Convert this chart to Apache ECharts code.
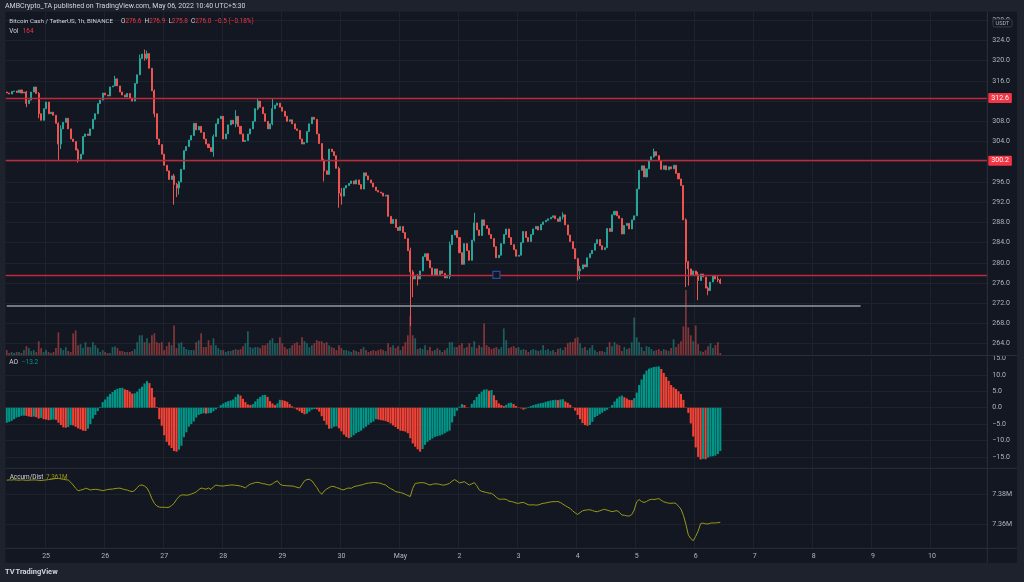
<!DOCTYPE html>
<html>
<head>
<meta charset="utf-8">
<script src="https://cdn.jsdelivr.net/npm/echarts@6/dist/echarts.min.js"></script>
<style>
  html, body { margin: 0; padding: 0; background: #131722; }
  #chart { width: 1024px; height: 582px; }
</style>
</head>
<body>
<div id="chart"></div>
<script>
// BCH/USDT 1h, Apr 24 08:00 -> May 6 10:00
const firstOpen = 313.8;
const closes = [
  313.6, 313.4, 313.9, 314.0, 313.7, 314.2, 313.6, 313.8, 311.5, 312.2, 313.8, 314.8, 313.5, 309.5, 308.2, 310.5,
  311.8, 309.5, 309.8, 309.2, 307.6, 303.5, 306.5, 307.8, 308.6, 306.5, 304.5, 304.0, 302.3, 300.5, 301.5, 305.0, 305.5, 305.2, 306.5, 308.4, 309.5, 311.5, 312.2, 313.6,
  313.2, 313.0, 314.8, 315.0, 316.4, 315.0, 313.8, 313.2, 312.8, 313.5, 312.6, 312.0, 315.5, 317.2, 320.4, 321.3, 320.5, 321.4, 318.5, 314.0, 309.5, 304.5, 303.4, 301.5,
  299.3, 298.2, 296.5, 297.2, 295.5, 294.8, 296.0, 298.5, 302.2, 303.0, 304.3, 305.2, 307.6, 306.3, 307.0, 305.8, 304.5, 303.5, 302.8, 302.0, 305.0, 307.5, 308.5, 309.0,
  304.5, 305.5, 307.3, 308.2, 307.5, 309.0, 307.0, 305.5, 304.0, 304.2, 305.5, 306.5, 308.0, 310.5, 312.0, 310.8, 309.5, 308.0, 306.5, 307.5, 310.5, 311.2, 311.6, 310.8,
  310.0, 309.0, 308.0, 308.3, 307.5, 306.5, 306.2, 304.5, 303.5, 303.8, 306.0, 307.5, 308.8, 308.4, 305.5, 303.6, 300.2, 298.2, 297.5, 302.5, 302.0, 301.2, 298.7, 293.8,
  293.2, 294.8, 295.3, 295.7, 296.2, 295.6, 296.4, 295.5, 294.6, 297.8, 297.2, 296.4, 295.8, 295.0, 294.3, 294.0, 293.8, 293.2, 293.4, 289.2, 287.8, 288.6, 287.0, 286.4,
  287.2, 286.0, 284.8, 282.4, 278.2, 276.8, 277.5, 276.8, 278.4, 281.2, 281.8, 280.5, 279.0, 277.6, 278.8, 277.5, 278.4, 277.9, 277.0, 277.3, 283.6, 285.5, 286.4, 285.0,
  282.0, 279.7, 283.8, 282.4, 280.5, 284.5, 287.9, 286.5, 285.4, 288.5, 287.4, 286.8, 285.6, 284.8, 283.2, 281.0, 281.5, 283.8, 285.6, 286.7, 285.0, 283.6, 282.6, 281.3,
  281.5, 284.0, 286.2, 285.0, 284.2, 285.6, 286.7, 287.2, 286.5, 287.6, 288.1, 288.4, 288.7, 289.0, 289.3, 288.7, 288.2, 289.1, 289.5, 287.5, 285.5, 284.2, 282.8, 280.8,
  278.4, 278.8, 279.6, 279.2, 281.0, 281.8, 282.5, 283.8, 284.6, 283.4, 282.6, 283.0, 286.8, 286.2, 289.5, 290.2, 289.3, 288.8, 285.7, 287.4, 287.8, 286.7, 288.5, 289.3,
  294.6, 298.3, 299.2, 297.0, 298.6, 300.2, 301.0, 302.0, 301.2, 300.2, 298.5, 299.2, 298.4, 299.0, 298.6, 299.3, 297.7, 296.6, 295.3, 288.5, 280.2, 278.8, 277.6, 278.4,
  277.7, 276.5, 277.8, 277.2, 275.0, 274.5, 276.2, 277.5, 276.8, 276.6, 276.0
];
// visible wicks: [candle index, low, high]; other candles show no wick
const wicks = [
  [8, 310.8, 314.0], [13, 308.6, 313.8], [21, 300.3, 307.8], [22, 302.5, 307.2], [29, 299.8, 302.6],
  [44, 315.0, 317.0], [54, 317.2, 321.2], [56, 320.0, 322.2], [57, 320.2, 322.0], [60, 308.8, 314.3],
  [68, 291.5, 297.6], [69, 293.0, 295.8], [70, 293.5, 296.2], [84, 301.0, 305.4], [93, 306.8, 310.2],
  [102, 310.2, 312.6], [108, 307.2, 312.6], [129, 296.1, 300.6], [135, 290.9, 299.0], [136, 291.5, 294.8],
  [164, 267.5, 283.0], [165, 273.2, 278.6], [167, 275.5, 277.8], [180, 276.8, 284.2], [190, 284.2, 289.9],
  [226, 288.6, 290.0], [232, 276.5, 281.0], [233, 276.8, 279.4], [263, 300.8, 302.6], [276, 275.2, 288.8],
  [277, 275.5, 280.4], [281, 272.6, 278.2], [285, 273.6, 275.3], [289, 276.2, 277.6], [290, 275.8, 276.9]
];
const volumes = [
  400, 160, 240, 160, 240, 240, 160, 400, 720, 560, 320, 400, 240, 1120, 560, 240,
  400, 240, 160, 240, 560, 1840, 560, 400, 640, 320, 240, 1760, 2000, 800, 880, 560, 1040, 640, 640, 1040, 800, 560, 240, 400,
  240, 160, 160, 640, 720, 560, 320, 320, 240, 240, 240, 320, 480, 1040, 1600, 1600, 1040, 1360, 960, 1600, 1760, 1040, 960, 1040,
  400, 720, 1040, 800, 2400, 560, 960, 1040, 640, 480, 400, 400, 400, 1040, 1200, 1760, 640, 640, 1200, 800, 1360, 800, 560, 400,
  400, 240, 320, 320, 400, 480, 400, 480, 720, 960, 1920, 640, 560, 640, 640, 560, 800, 800, 960, 1200, 1360, 960, 960, 1440,
  960, 640, 480, 560, 800, 960, 1040, 800, 1440, 1120, 960, 640, 800, 960, 1200, 1120, 1120, 960, 1040, 800, 640, 560, 400, 800,
  560, 400, 400, 320, 240, 400, 320, 240, 480, 640, 400, 240, 320, 400, 320, 400, 480, 400, 320, 960, 640, 800, 560, 720,
  400, 720, 1040, 1600, 3200, 1600, 1360, 480, 560, 480, 800, 400, 640, 320, 400, 560, 400, 240, 400, 560, 1040, 1040, 640, 640,
  800, 960, 560, 640, 960, 640, 1120, 560, 800, 640, 2560, 800, 640, 480, 560, 640, 480, 640, 2160, 1200, 560, 640, 720, 560,
  640, 400, 480, 400, 240, 400, 480, 400, 320, 400, 800, 400, 480, 320, 400, 240, 480, 560, 400, 640, 960, 1040, 1040, 1360,
  1440, 960, 560, 640, 400, 560, 800, 400, 240, 320, 320, 240, 640, 1040, 720, 1040, 880, 800, 320, 640, 480, 560, 1040, 3040,
  1440, 1040, 640, 320, 720, 640, 480, 320, 400, 480, 320, 480, 400, 320, 560, 1280, 640, 880, 1120, 2320, 5280, 2240, 1600, 1120,
  2400, 880, 320, 240, 400, 720, 960, 560, 800, 1040, 164
];
const aoValues = [
  -4.6, -4.3, -4.0, -3.5, -3.0, -2.8, -2.5, -2.4, -2.5, -2.7, -2.8, -2.7, -2.9, -3.3, -3.1, -3.5,
  -3.6, -3.8, -3.7, -3.6, -3.7, -4.6, -5.3, -6.0, -6.1, -5.9, -5.3, -5.4, -5.8, -6.3, -6.6, -7.0, -7.1, -6.4, -5.0, -3.3, -2.2, -1.0, 0.2, 1.7,
  2.5, 3.4, 4.2, 4.8, 5.4, 5.8, 6.0, 6.05, 5.6, 5.4, 4.9, 4.3, 4.4, 4.9, 5.8, 6.4, 7.4, 8.1, 7.5, 6.0, 3.2, 0.2, -3.5, -5.5,
  -8.4, -10.4, -11.5, -12.3, -13.2, -13.4, -12.8, -11.6, -9.0, -7.5, -5.8, -5.0, -4.2, -3.0, -2.2, -1.9, -1.7, -1.8, -1.7, -1.6, -1.1, -0.5, -0.1, 0.8,
  1.3, 1.7, 2.0, 2.2, 2.5, 3.3, 4.1, 3.7, 2.7, 1.7, 1.0, 0.8, 1.1, 1.9, 2.7, 3.3, 3.8, 3.9, 3.3, 2.0, 1.3, 0.8, 1.3, 2.4,
  2.3, 2.1, 1.8, 1.1, 0.4, -0.2, -0.6, -1.1, -1.6, -2.0, -1.8, -1.2, -0.6, -0.4, -0.5, -1.2, -2.6, -4.0, -5.2, -6.4, -6.3, -5.8, -5.7, -6.3,
  -7.2, -8.2, -8.9, -9.3, -9.0, -8.4, -7.8, -7.4, -7.0, -6.3, -5.8, -5.2, -4.6, -4.2, -3.5, -3.6, -3.8, -3.9, -4.1, -4.4, -4.8, -5.4, -5.9, -6.5,
  -7.0, -7.1, -7.3, -7.8, -9.3, -10.9, -11.9, -12.7, -13.4, -12.6, -11.3, -10.4, -9.9, -9.4, -8.9, -8.7, -8.5, -8.2, -7.8, -7.3, -7.0, -4.5, -2.6, -0.9,
  0.3, 1.1, 0.8, 0.1, 0.05, 1.2, 2.3, 3.3, 4.2, 4.9, 5.5, 5.6, 5.2, 5.4, 3.8, 2.3, 1.3, 0.8, 0.5, 0.9, 1.4, 1.5, 1.1, 0.5,
  0.1, -0.2, -0.6, -0.3, 0.2, 0.5, 0.8, 1.0, 1.2, 1.4, 1.5, 1.8, 2.0, 2.2, 2.3, 2.4, 2.3, 2.5, 2.6, 1.9, 1.5, 0.9, 0.1, -0.9,
  -2.2, -3.5, -4.7, -5.3, -5.5, -5.3, -4.3, -2.9, -2.5, -2.0, -1.5, -1.0, -0.6, -0.1, 0.8, 1.9, 2.8, 3.4, 3.7, 3.2, 2.8, 2.4, 2.3, 2.9,
  4.6, 6.9, 8.6, 10.2, 11.3, 11.9, 12.2, 12.4, 12.5, 12.6, 11.8, 10.6, 9.4, 8.2, 6.9, 6.2, 5.7, 5.0, 4.2, 2.4, 0.1, -1.6, -4.8, -8.8,
  -12.1, -15.0, -15.8, -15.6, -15.7, -15.2, -14.9, -14.8, -14.6, -14.1, -13.2
];
// Accumulation/Distribution, in thousands
const accDist = [
  7389.4, 7389.6, 7389.5, 7389.7, 7389.5, 7389.4, 7389.6, 7389.5, 7389.3, 7389.4, 7389.5, 7389.6, 7389.5, 7389.3, 7389.2, 7389.4,
  7389.6, 7389.8, 7390.0, 7390.3, 7390.5, 7390.6, 7390.3, 7390.0, 7389.7, 7389.5, 7388.0, 7386.2, 7384.0, 7382.4, 7382.8, 7383.2, 7384.0, 7383.6, 7382.9, 7383.2, 7383.3, 7383.2, 7382.8, 7382.4,
  7382.8, 7383.2, 7383.4, 7383.5, 7383.8, 7384.0, 7384.1, 7383.6, 7383.1, 7382.8, 7382.2, 7381.8, 7382.5, 7384.5, 7386.0, 7386.2, 7385.5, 7384.2, 7381.2, 7377.0, 7374.0, 7372.2, 7371.5, 7371.3,
  7371.4, 7371.2, 7371.4, 7372.5, 7374.0, 7376.5, 7378.5, 7379.5, 7379.6, 7379.4, 7379.6, 7380.2, 7380.8, 7381.6, 7383.0, 7384.2, 7383.8, 7383.4, 7384.2, 7383.2, 7385.0, 7386.2, 7385.8, 7385.6,
  7385.5, 7385.8, 7386.0, 7386.2, 7386.2, 7386.0, 7385.8, 7385.5, 7385.0, 7384.3, 7385.8, 7386.8, 7387.3, 7387.8, 7388.0, 7387.6, 7387.1, 7386.9, 7386.4, 7386.2, 7387.0, 7388.2, 7389.0, 7386.8,
  7386.0, 7385.8, 7385.7, 7385.6, 7385.5, 7385.2, 7384.6, 7384.2, 7386.5, 7389.0, 7389.8, 7390.0, 7389.0, 7386.8, 7384.5, 7381.8, 7380.0, 7382.2, 7383.5, 7384.5, 7385.3, 7385.2, 7384.5, 7384.0,
  7383.2, 7383.0, 7383.8, 7384.2, 7384.0, 7385.0, 7385.5, 7385.8, 7386.2, 7386.6, 7387.2, 7387.5, 7387.6, 7387.9, 7387.8, 7387.6, 7387.3, 7386.6, 7386.2, 7384.8, 7383.8, 7383.0, 7381.8, 7381.5,
  7381.2, 7380.7, 7380.0, 7379.2, 7378.5, 7384.0, 7387.2, 7387.5, 7387.7, 7387.8, 7387.5, 7386.8, 7386.2, 7386.7, 7387.0, 7386.9, 7386.6, 7386.2, 7386.2, 7386.7, 7387.3, 7388.8, 7389.8, 7388.8,
  7387.6, 7388.0, 7388.4, 7387.2, 7386.2, 7387.0, 7387.8, 7385.8, 7383.0, 7382.0, 7381.6, 7381.2, 7380.8, 7380.6, 7379.5, 7378.0, 7376.8, 7376.7, 7376.8, 7376.6, 7375.5, 7375.2, 7374.8, 7374.2,
  7374.0, 7374.4, 7374.6, 7373.8, 7373.0, 7372.9, 7373.0, 7372.8, 7372.9, 7373.5, 7374.0, 7374.2, 7374.6, 7374.9, 7375.1, 7375.1, 7375.2, 7374.5, 7373.5, 7372.4, 7371.5, 7370.5, 7369.0, 7367.6,
  7366.6, 7367.8, 7369.0, 7369.4, 7369.6, 7369.7, 7369.2, 7368.6, 7368.4, 7369.0, 7369.6, 7370.0, 7369.4, 7369.0, 7368.4, 7368.8, 7369.1, 7368.0, 7366.2, 7366.0, 7365.6, 7365.5, 7366.5, 7369.5,
  7375.0, 7376.5, 7375.2, 7374.6, 7375.2, 7376.2, 7376.7, 7376.5, 7376.8, 7377.2, 7376.0, 7375.0, 7374.5, 7374.1, 7374.0, 7374.2, 7373.9, 7372.0, 7370.2, 7366.0, 7360.0, 7353.0, 7350.5, 7349.1,
  7352.0, 7355.5, 7360.5, 7360.8, 7360.3, 7360.2, 7360.8, 7360.9, 7360.9, 7361.1, 7361.3
];
const tickLabels = ['25', '26', '27', '28', '29', '30', 'May', '2', '3', '4', '5', '6', '7', '8', '9', '10'];
const redLevels = [312.6, 300.2, 277.6];
const taggedLevels = [312.6, 300.2];
const grayLevel = [271.45, 0, 347];     // price, from slot, to slot
const anchorMark = [199, 277.6];
const lastPrice = 276.0;
const countdown = '49:52';

// hourly slots, incl. empty space to the right
const slotCount = 399;
const firstMidnight = 16;
const t0 = Date.UTC(2022, 3, 24, 8);
const slots = [];
for (let i = 0; i < slotCount; i++) {
  const d = new Date(t0 + i * 3600000);
  slots.push(d.toISOString().slice(0, 13));
}
const isMidnight = (i) => i >= firstMidnight && (i - firstMidnight) % 24 === 0;

const upC = '#26a69a', downC = '#ef5350';
const gridC = '#1e222d', sepC = '#2a2e39', txtC = '#b2b5be';
const font = 'Roboto, "Liberation Sans", sans-serif';

const wickMap = {};
wicks.forEach((w) => { wickMap[w[0]] = w; });
const candles = closes.map((c, i) => {
  const o = i === 0 ? firstOpen : closes[i - 1];
  const w = wickMap[i];
  return [o, c, w ? w[1] : Math.min(o, c), w ? w[2] : Math.max(o, c)];
});
const volData = volumes.map((v, i) => ({
  value: v,
  itemStyle: { color: candles[i][1] >= candles[i][0] ? 'rgba(38,166,154,0.5)' : 'rgba(239,83,80,0.5)' }
}));
const aoData = aoValues.map((v, i) => ({
  value: v,
  itemStyle: { color: i > 0 && v < aoValues[i - 1] ? '#F44336' : '#009688' }
}));

const minus = (s) => s.replace('-', '\u2212');

function xAxisFor(gridIndex, withLabels, withSplit) {
  return {
    type: 'category', gridIndex: gridIndex, data: slots, boundaryGap: true,
    axisLine: { show: false },
    axisTick: { show: false },
    axisLabel: {
      show: withLabels, interval: (i) => isMidnight(i), color: txtC, fontSize: 7, fontFamily: font, margin: 4,
      formatter: (v, i) => tickLabels[(i - firstMidnight) / 24] || ''
    },
    splitLine: { show: withSplit, interval: (i) => isMidnight(i), lineStyle: { color: gridC, width: 1 } }
  };
}
const gridBase = { left: 5.5, right: 36.7 };
const priceTag = (text, bg) => ({
  show: true, position: 'end', distance: 1, formatter: text, color: '#ffffff', backgroundColor: bg,
  fontSize: 7, fontFamily: font, padding: [1, 3, 1, 3], lineHeight: 8, borderRadius: 1
});

function levelLine(p) {
  return {
    yAxis: p,
    lineStyle: { color: '#bf2a3b', width: 1.3, type: 'solid', opacity: 1 },
    label: taggedLevels.indexOf(p) >= 0 ? priceTag(p.toFixed(1), '#f23645') : { show: false }
  };
}
const markLines = redLevels.map(levelLine);
markLines.push([
  { coord: [grayLevel[1], grayLevel[0]], lineStyle: { color: '#9598a1', width: 1.5, type: 'solid' }, label: { show: false } },
  { coord: [grayLevel[2], grayLevel[0]], lineStyle: { color: '#9598a1', width: 1.5, type: 'solid' }, label: { show: false } }
]);
markLines.push({
  yAxis: lastPrice, lineStyle: { opacity: 0 },
  label: priceTag(lastPrice.toFixed(1) + '\n' + countdown, '#f7525f')
});

const chart = echarts.init(document.getElementById('chart'), null, { renderer: 'canvas' });
const text = (x, y, str, fill, size, extra) => Object.assign({
  type: 'text', x: x, y: y, z: 110,
  style: { text: str, fill: fill, fontSize: size, fontFamily: font, verticalAlign: 'middle' }
}, extra || {});

const option = {
  backgroundColor: '#131722',
  animation: false,
  grid: [
    Object.assign({ top: -3.1, height: 346.8 }, gridBase),
    Object.assign({ top: 290, height: 65 }, gridBase),
    Object.assign({ top: 358.5, height: 114.8 }, gridBase),
    Object.assign({ top: 464.3, height: 90 }, gridBase),
    Object.assign({ top: 469, height: 79.3 }, gridBase)
  ],
  xAxis: [
    xAxisFor(0, false, true),
    xAxisFor(1, false, true),
    xAxisFor(2, false, true),
    xAxisFor(3, false, false),
    xAxisFor(4, true, true)
  ],
  yAxis: [
    {
      type: 'value', gridIndex: 0, position: 'right', min: 264, max: 332, interval: 4,
      axisLine: { show: false }, axisTick: { show: false },
      axisLabel: { color: txtC, fontSize: 7, fontFamily: font, margin: 5,
        formatter: (v) => (v > 330 ? '' : v.toFixed(1)) },
      splitLine: { lineStyle: { color: gridC }, showMaxLine: false }
    },
    { type: 'value', gridIndex: 1, min: 0, max: 'dataMax', show: false },
    {
      type: 'value', gridIndex: 2, position: 'right', min: -20, max: 15, interval: 5,
      axisLine: { show: false }, axisTick: { show: false },
      axisLabel: { color: txtC, fontSize: 7, fontFamily: font, margin: 5,
        formatter: (v) => (v < -17 ? '' : minus(v.toFixed(1))) },
      splitLine: { lineStyle: { color: gridC }, showMinLine: false, showMaxLine: false }
    },
    {
      type: 'value', gridIndex: 3, position: 'right', min: 7340, max: 7400, interval: 20,
      axisLine: { show: false }, axisTick: { show: false },
      axisLabel: { color: txtC, fontSize: 7, fontFamily: font, margin: 5,
        formatter: (v) => (v > 7345 && v < 7395 ? (v / 1000).toFixed(2) + 'M' : '') },
      splitLine: { lineStyle: { color: gridC }, showMinLine: false, showMaxLine: false }
    },
    { type: 'value', gridIndex: 4, show: false }
  ],
  series: [
    {
      type: 'candlestick', xAxisIndex: 0, yAxisIndex: 0, data: candles, barWidth: '62%',
      itemStyle: { color: upC, color0: downC, borderColor: upC, borderColor0: downC, borderWidth: 1 },
      markLine: { silent: true, symbol: ['none', 'none'], animation: false, data: markLines },
      markPoint: {
        silent: true, symbol: 'rect', symbolSize: 7, label: { show: false },
        data: [{ coord: anchorMark, itemStyle: { color: '#131722', borderColor: '#2a4b9b', borderWidth: 1.2 } }]
      }
    },
    { type: 'bar', xAxisIndex: 1, yAxisIndex: 1, data: volData, barCategoryGap: '30%' },
    { type: 'bar', xAxisIndex: 2, yAxisIndex: 2, data: aoData, barCategoryGap: '15%' },
    {
      type: 'line', xAxisIndex: 3, yAxisIndex: 3, data: accDist, showSymbol: false,
      lineStyle: { color: '#999915', width: 1 }
    }
  ],
  graphic: [
    // frame
    { type: 'rect', z: 100, shape: { x: 0, y: 0, width: 1024, height: 11.7 }, style: { fill: '#1e222d' } },
    { type: 'rect', z: 100, shape: { x: 0, y: 0, width: 5.5, height: 582 }, style: { fill: '#1e222d' } },
    { type: 'rect', z: 100, shape: { x: 1017, y: 0, width: 7, height: 582 }, style: { fill: '#1e222d' } },
    { type: 'rect', z: 100, shape: { x: 0, y: 562.7, width: 1024, height: 20 }, style: { fill: '#1e222d' } },
    // pane separators
    { type: 'line', z: 90, shape: { x1: 5.5, y1: 355.5, x2: 1017, y2: 355.5 }, style: { stroke: sepC, lineWidth: 1 } },
    { type: 'line', z: 90, shape: { x1: 5.5, y1: 468.3, x2: 1017, y2: 468.3 }, style: { stroke: sepC, lineWidth: 1 } },
    { type: 'line', z: 90, shape: { x1: 5.5, y1: 548.3, x2: 1017, y2: 548.3 }, style: { stroke: sepC, lineWidth: 1 } },
    { type: 'line', z: 90, shape: { x1: 987.3, y1: 11.7, x2: 987.3, y2: 562.7 }, style: { stroke: sepC, lineWidth: 1 } },
    // header + legends
    text(5, 6.5, 'AMBCrypto_TA published on TradingView.com, May 06, 2022 10:40 UTC+5:30', '#d1d4dc', 7),
    text(9.3, 21.7, 'Bitcoin Cash / TetherUS, 1h, BINANCE', '#d1d4dc', 6.2),
    {
      type: 'text', x: 121, y: 21.7, z: 110,
      style: {
        text: '{l|O}{v|276.6}  {l|H}{v|276.9}  {l|L}{v|275.8}  {l|C}{v|276.0}  {v|\u22120.5 (\u22120.18%)}',
        fontSize: 6.4, fontFamily: font, verticalAlign: 'middle',
        rich: { l: { fill: '#d1d4dc', fontSize: 6.4, fontFamily: font }, v: { fill: '#f23645', fontSize: 6.4, fontFamily: font } }
      }
    },
    text(9.3, 31.7, 'Vol', '#d1d4dc', 6.4),
    text(22.7, 31.7, String(volumes[volumes.length - 1]), '#f23645', 6.4),
    text(9.3, 362.5, 'AO', '#d1d4dc', 6.6),
    text(21.7, 362.5, minus(aoValues[aoValues.length - 1].toFixed(1)), '#009688', 6.6),
    text(9.7, 477.3, 'Accum/Dist', '#d1d4dc', 6.4),
    text(46, 477.3, (accDist[accDist.length - 1] / 1000).toFixed(3) + 'M', '#999915', 6.4),
    // currency badge
    { type: 'rect', z: 110, shape: { x: 993, y: 19.3, width: 19, height: 7.6, r: 1.5 }, style: { fill: '#131722', stroke: '#434651', lineWidth: 0.8 } },
    text(1002.5, 23.1, 'USDT', txtC, 5.6, { style: { text: 'USDT', fill: txtC, fontSize: 5.6, fontFamily: font, align: 'center', verticalAlign: 'middle' } }),
    // footer logo
    text(5, 572.3, 'TV', '#d1d4dc', 7.5, { style: { text: 'TV', fill: '#d1d4dc', fontSize: 7.5, fontWeight: 'bold', fontFamily: font, verticalAlign: 'middle' } }),
    text(15.5, 572.3, 'TradingView', '#d1d4dc', 7.5, { style: { text: 'TradingView', fill: '#d1d4dc', fontSize: 7.5, fontWeight: 'bold', fontFamily: font, verticalAlign: 'middle' } })
  ]
};
chart.setOption(option);
</script>
</body>
</html>
